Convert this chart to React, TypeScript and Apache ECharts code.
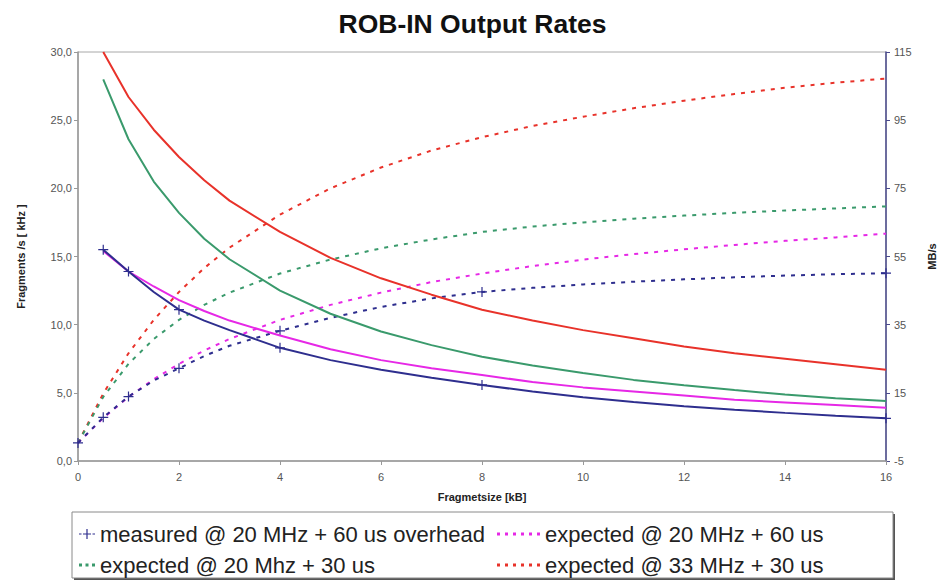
import React, { useEffect, useRef } from "react";
import * as echarts from "echarts";

const titleText = "ROB-IN Output Rates";
const xTicksMax = 16;
const leftTicksMax = 30;
const rightTicks = [-5, 15, 35, 55, 75, 95, 115];

const rateSizes = [0.5, 1, 1.5, 2, 2.5, 3, 4, 5, 6, 7, 8, 9, 10, 11, 12, 13, 14, 15, 16];
const throughputSizes = [0, 0.5, 1, 1.5, 2, 2.5, 3, 4, 5, 6, 7, 8, 9, 10, 11, 12, 13, 14, 15, 16];

const measuredMarkerSizes = [0, 0.5, 1, 2, 4, 8, 16];
const measuredRate = [15.5, 13.9, 12.4, 11.1, 10.3, 9.6, 8.3, 7.4, 6.7, 6.1, 5.58, 5.09, 4.68, 4.33, 4.02, 3.76, 3.53, 3.32, 3.13];
const measuredThroughput = [0.3, 7.8, 13.9, 18.6, 22.2, 25.8, 28.8, 33.2, 37.0, 40.2, 42.7, 44.6, 45.8, 46.8, 47.6, 48.3, 48.9, 49.4, 49.8, 50.1];

const rate20_60 = [15.4, 13.9, 12.8, 11.8, 11.0, 10.3, 9.2, 8.2, 7.4, 6.8, 6.3, 5.8, 5.4, 5.1, 4.8, 4.5, 4.3, 4.1, 3.9];
const rate20_30 = [28.0, 23.6, 20.5, 18.2, 16.3, 14.8, 12.5, 10.8, 9.5, 8.5, 7.65, 7.0, 6.45, 5.95, 5.55, 5.2, 4.88, 4.6, 4.4];
const rate33_30 = [30.0, 26.7, 24.3, 22.3, 20.6, 19.1, 16.8, 14.9, 13.4, 12.2, 11.1, 10.3, 9.6, 9.0, 8.4, 7.9, 7.5, 7.1, 6.7];

const thr20_60 = [0.3, 7.6, 13.8, 19.0, 23.5, 27.4, 30.8, 36.4, 40.8, 44.4, 47.5, 50.0, 52.2, 54.1, 55.7, 57.1, 58.4, 59.6, 60.6, 61.7];
const thr20_30 = [0.3, 13.8, 23.5, 30.8, 36.4, 40.8, 44.4, 50.0, 54.1, 57.4, 60.0, 62.2, 63.8, 65.0, 66.1, 67.0, 67.8, 68.5, 69.1, 69.7];
const thr33_30 = [0.3, 14.8, 26.6, 36.4, 44.6, 51.6, 57.6, 67.3, 75.0, 81.1, 86.1, 90.0, 93.3, 96.0, 98.5, 100.7, 102.7, 104.5, 106.0, 107.2];

const names = {
  measured: "measured @ 20 MHz + 60 us overhead",
  e20_60: "expected @ 20 MHz + 60 us",
  e20_30: "expected @ 20 Mhz + 30 us",
  e33_30: "expected @ 33 MHz + 30 us",
};

const NAVY = "#2e2e8e";
const MAGENTA = "#e628e6";
const GREEN = "#3a9a6c";
const RED = "#e8322a";
const PLUS = "path://M4.4,0H5.6V4.4H10V5.6H5.6V10H4.4V5.6H0V4.4H4.4Z";
const ICON_MEASURED =
  "path://M0,4.4h2.5v1.2h-2.5z M4,4.4h8v1.2h-8z M7.4,0h1.2v10h-1.2z M13.5,4.4h2.5v1.2h-2.5z";
const ICON_DOTS_SHORT = "path://M0,0h3v3h-3z M6.5,0h3v3h-3z M13,0h3v3h-3z";
const ICON_DOTS_LONG =
  "path://M0,0h3v3h-3z M8,0h3v3h-3z M16,0h3v3h-3z M24,0h3v3h-3z M32,0h3v3h-3z M40,0h3v3h-3z";
const FONT = "Liberation Sans";

const zip = (xs: number[], ys: number[]) => xs.map((x, i) => [x, ys[i]]);
const zipMarked = (xs: number[], ys: number[]) =>
  xs.map((x, i) =>
    measuredMarkerSizes.includes(x) ? { value: [x, ys[i]] } : { value: [x, ys[i]], symbol: "none" }
  );

export default function App() {
  const ref = useRef<HTMLDivElement>(null);
  useEffect(() => {
    if (!ref.current) return;
    const chart = echarts.init(ref.current, null, { renderer: "svg" });
    const dotted = { type: [4, 6] as any, width: 2 };
    const solidLine = (name: string, color: string, data: any[], extra: any = {}) => ({
      name,
      type: "line",
      yAxisIndex: 0,
      data,
      showSymbol: false,
      symbol: "none",
      lineStyle: { color, width: 2 },
      itemStyle: { color },
      z: 3,
      ...extra,
    });
    const dottedLine = (name: string, color: string, data: any[], extra: any = {}) => ({
      name,
      type: "line",
      yAxisIndex: 1,
      data,
      symbol: "none",
      lineStyle: { color, ...dotted },
      itemStyle: { color },
      z: 2,
      ...extra,
    });
    const plusMarker = {
      symbol: PLUS,
      symbolSize: 10,
      showSymbol: true,
      itemStyle: { color: NAVY },
    };
    const legendText = { fontFamily: FONT, fontSize: 22, color: "#222" };
    const leg = (name: string, left: number, top: number, icon: string, w: number, h: number) => ({
      orient: "horizontal",
      left,
      top,
      icon,
      itemWidth: w,
      itemHeight: h,
      itemGap: 0,
      data: [{ name, icon }],
      textStyle: legendText,
    });
    chart.setOption({
      animation: false,
      backgroundColor: "#ffffff",
      textStyle: { fontFamily: FONT },
      title: {
        text: titleText,
        left: "center",
        top: 5,
        textStyle: { fontFamily: FONT, fontSize: 26.5, fontWeight: "bold", color: "#111" },
      },
      grid: {
        left: 78,
        right: 50,
        top: 52,
        bottom: 121,
        show: true,
        borderColor: "#a8a8a8",
        borderWidth: 1,
        backgroundColor: "transparent",
      },
      legend: [
        leg(names.measured, 74, 518, ICON_MEASURED, 16, 10),
        leg(names.e20_60, 492, 518, ICON_DOTS_LONG, 43, 3),
        leg(names.e20_30, 74, 549, ICON_DOTS_SHORT, 16, 3),
        leg(names.e33_30, 492, 549, ICON_DOTS_LONG, 43, 3),
      ],
      graphic: [
        {
          type: "rect",
          shape: { x: 74, y: 514, width: 821, height: 66 },
          style: { fill: "#555", stroke: "none" },
          z: -2,
        },
        {
          type: "rect",
          shape: { x: 72, y: 512, width: 821, height: 66 },
          style: { fill: "#fff", stroke: "#8a8a8a", lineWidth: 1 },
          z: -1,
        },
      ],
      xAxis: {
        type: "value",
        min: 0,
        max: xTicksMax,
        interval: 2,
        name: "Fragmetsize [kB]",
        nameLocation: "middle",
        nameGap: 30,
        nameTextStyle: { fontFamily: FONT, fontSize: 11, fontWeight: "bold", color: "#222" },
        axisLine: { onZero: false, lineStyle: { color: "#999", width: 1.5 } },
        axisTick: { show: true, length: 4, lineStyle: { color: "#999" } },
        axisLabel: { color: "#555", fontSize: 11, margin: 10 },
        splitLine: { show: false },
      },
      yAxis: [
        {
          type: "value",
          min: 0,
          max: leftTicksMax,
          interval: 5,
          position: "left",
          name: "Fragments /s [ kHz ]",
          nameLocation: "middle",
          nameGap: 52,
          nameTextStyle: { fontFamily: FONT, fontSize: 11, fontWeight: "bold", color: "#222" },
          axisLine: { show: true, lineStyle: { color: "#999", width: 1.5 } },
          axisTick: { show: true, length: 4, lineStyle: { color: "#999" } },
          axisLabel: {
            color: "#555",
            fontSize: 11,
            margin: 6,
            formatter: (v: number) => v.toFixed(1).replace(".", ","),
          },
          splitLine: { show: false },
        },
        {
          type: "value",
          min: rightTicks[0],
          max: rightTicks[rightTicks.length - 1],
          position: "right",
          name: "MB/s",
          nameLocation: "middle",
          nameGap: 40,
          nameTextStyle: { fontFamily: FONT, fontSize: 11, fontWeight: "bold", color: "#222" },
          axisLine: { show: true, lineStyle: { color: "#4a4a8c", width: 1.5 } },
          axisTick: { show: true, length: 4, customValues: rightTicks, lineStyle: { color: "#4a4a8c" } },
          axisLabel: { color: "#555", fontSize: 11, margin: 8, customValues: rightTicks },
          splitLine: { show: false },
        },
      ],
      series: [
        dottedLine(names.e33_30, RED, zip(throughputSizes, thr33_30)),
        dottedLine(names.e20_30, GREEN, zip(throughputSizes, thr20_30)),
        dottedLine(names.e20_60, MAGENTA, zip(throughputSizes, thr20_60)),
        dottedLine(names.measured, NAVY, zipMarked(throughputSizes, measuredThroughput), plusMarker),
        solidLine("rate 33 MHz + 30 us", RED, zip(rateSizes, rate33_30)),
        solidLine("rate 20 MHz + 30 us", GREEN, zip(rateSizes, rate20_30)),
        solidLine("rate 20 MHz + 60 us", MAGENTA, zip(rateSizes, rate20_60)),
        solidLine("rate measured", NAVY, zipMarked(rateSizes, measuredRate), plusMarker),
      ],
    });
    return () => chart.dispose();
  }, []);
  return (
    <div
      ref={ref}
      style={{ position: "fixed", left: 0, top: 0, width: 945, height: 582, background: "#fff" }}
    />
  );
}
